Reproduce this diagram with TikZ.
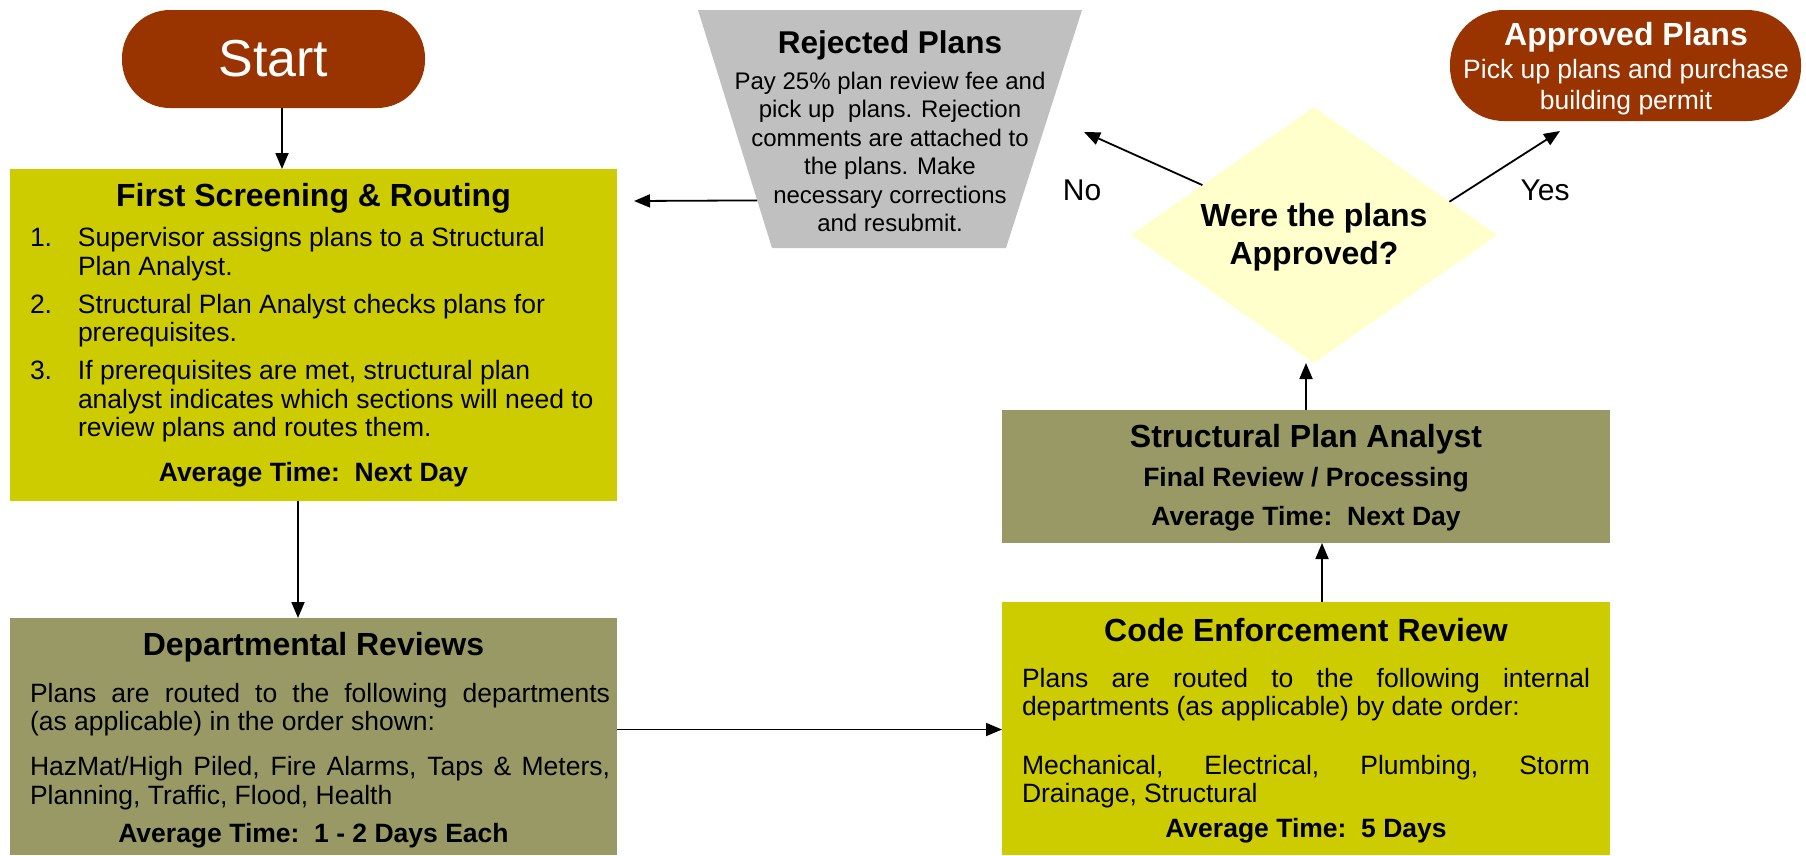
\documentclass[tikz,border=0pt]{standalone}
\usepackage{fontspec}
\setmainfont{Liberation Sans}
\usetikzlibrary{arrows.meta,calc,positioning,shapes.geometric}
\definecolor{rust}{HTML}{993300}
\definecolor{citron}{HTML}{CCCC00}
\definecolor{khaki}{HTML}{999966}
\definecolor{ash}{HTML}{C0C0C0}
\definecolor{cream}{HTML}{FFFFCC}
\newcommand{\fsz}[2]{\fontsize{#1}{#2}\selectfont}
\tikzset{every node/.append style={inner sep=0pt, outer sep=0pt}}

\begin{document}
\begin{tikzpicture}[x=1pt, y=-1pt,
  flow/.style={line width=1.8pt, -{Triangle[length=16pt,width=13pt]}},
  stage/.style={rectangle, minimum width=607pt},
  pill/.style={fill=rust, text=white, rounded corners=48pt},
  head/.style={font=\fsz{32pt}{38pt}\bfseries, align=center},
  sub/.style={font=\fsz{26.5pt}{31pt}\bfseries, align=center},
  body/.style={font=\fsz{26.5pt}{28.5pt}, align=left},
  tag/.style={font=\fsz{30pt}{36pt}}]
  \useasboundingbox (0,0) rectangle (1806,855);

  % left column
  \node[pill, minimum width=303pt, minimum height=98pt, font=\fsz{52pt}{60pt}] (start) at (273.5,59) {Start};
  \node[stage, fill=citron, minimum height=332pt] (screen) at (313.5,335) {};
  \node[head] (screenhead) at (313.5,198) {First Screening \& Routing};
  \node[body, anchor=west] (screenlist) at (30,335) {%
    \makebox[48pt][l]{1.}Supervisor assigns plans to a Structural\\
    \hspace*{48pt}Plan Analyst.\\[9.5pt]
    \makebox[48pt][l]{2.}Structural Plan Analyst checks plans for\\
    \hspace*{48pt}prerequisites.\\[9.5pt]
    \makebox[48pt][l]{3.}If prerequisites are met, structural plan\\
    \hspace*{48pt}analyst indicates which sections will need to\\
    \hspace*{48pt}review plans and routes them.};
  \node[sub] (screentime) at (313.5,475) {Average Time:\ \ Next Day};

  \node[stage, fill=khaki, minimum height=237pt] (depts) at (313.5,736.5) {};
  \node[head] (deptshead) at (313.5,647) {Departmental Reviews};
  \node[body, anchor=west] (deptsbody) at (30,746.5) {%
    \makebox[580pt][s]{Plans are routed to the following departments}\\
    (as applicable) in the order shown:\\[16.5pt]
    \makebox[580pt][s]{HazMat/High Piled, Fire Alarms, Taps \& Meters,}\\
    Planning, Traffic, Flood, Health};
  \node[sub] (deptstime) at (313.5,836) {Average Time:\ \ 1 - 2 Days Each};

  % right column
  \node[stage, fill=citron, minimum width=608pt, minimum height=253pt] (code) at (1306,728.5) {};
  \node[head] (codehead) at (1306,630) {Code Enforcement Review};
  \node[body, anchor=west] (codebody) at (1022,738) {%
    \makebox[568pt][s]{Plans are routed to the following internal}\\
    departments (as applicable) by date order:\\[30pt]
    \makebox[568pt][s]{Mechanical, Electrical, Plumbing, Storm}\\
    Drainage, Structural};
  \node[sub] (codetime) at (1306,831) {Average Time:\ \ 5 Days};

  \node[stage, fill=khaki, minimum width=608pt, minimum height=133pt] (spa) at (1306,476.5) {};
  \node[head] (spahead) at (1306,439) {Structural Plan Analyst};
  \node[sub, font=\fsz{26.5pt}{39pt}\bfseries] (spatext) at (1306,499) {Final Review / Processing\\Average Time:\ \ Next Day};

  \node[diamond, fill=cream, minimum width=366pt, minimum height=256pt] (decision) at (1314,235) {};
  \node[head] (decisiontext) at (1314,237) {Were the plans\\Approved?};

  % outcomes
  \coordinate (rejtl) at (698,10);
  \coordinate (rejtr) at (1082,10);
  \coordinate (rejbr) at (1006,248);
  \coordinate (rejbl) at (772,248);
  \fill[ash] (rejtl) -- (rejtr) -- (rejbr) -- (rejbl) -- cycle;
  \node[head, font=\fsz{31.5pt}{38pt}\bfseries] (rejhead) at (890,45) {Rejected Plans};
  \node[font=\fsz{24pt}{28.4pt}, align=center] (rejbody) at (890,152) {Pay 25\% plan review fee and\\
    pick up\ \ plans. Rejection\\comments are attached to\\the plans. Make\\necessary corrections\\and resubmit.};

  \node[pill, minimum width=351pt, minimum height=111pt, rounded corners=54pt] (approved) at (1625.5,65.5) {};
  \node[head, text=white] (apphead) at (1626,37) {Approved Plans};
  \node[font=\fsz{26.5pt}{31pt}, text=white, align=center] (appbody) at (1626,87) {Pick up plans and purchase\\building permit};

  \coordinate (noend) at (1084,132);
  \coordinate (yesend) at (1560,131);
  \coordinate (backend) at (634,201);
  \node[tag] (nolabel) at (1082,190) {No};
  \node[tag] (yeslabel) at (1545,190) {Yes};

  % connectors
  \draw[flow] ([xshift=8.5pt]start.south) -- ([xshift=8.5pt]start.south |- screen.north);
  \draw[flow] ([xshift=-15.5pt]screen.south) -- ([xshift=-15.5pt]screen.south |- depts.north);
  \draw[flow] ([yshift=7pt]depts.east) -- ([yshift=7pt]depts.east -| code.west);
  \draw[flow] ([xshift=16pt]code.north) -- ([xshift=16pt]code.north |- spa.south);
  \draw[flow] (spa.north) -- (spa.north |- decision.south);
  \draw[flow] ($(decision.west)!0.39!(decision.north)$) -- (noend);
  \draw[flow] ($(decision.north)!0.74!(decision.east)$) -- (yesend);
  \draw[flow] ($(rejtl)!0.8!(rejbl)$) -- (backend);
\end{tikzpicture}
\end{document}
